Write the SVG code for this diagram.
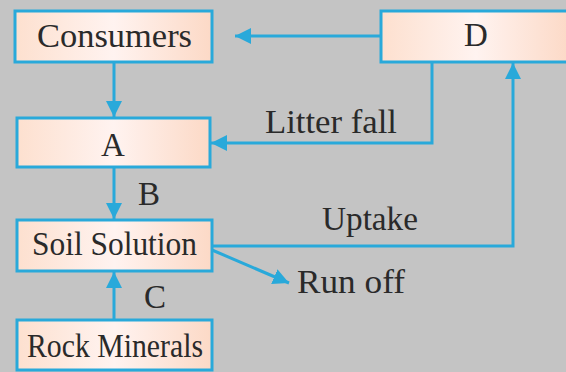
<svg xmlns="http://www.w3.org/2000/svg" width="566" height="372" viewBox="0 0 566 372">
<defs>
<linearGradient id="g" x1="0" y1="0" x2="1" y2="0">
<stop offset="0" stop-color="#fde0cf"/>
<stop offset="0.5" stop-color="#fff3f0"/>
<stop offset="1" stop-color="#fcd9c6"/>
</linearGradient>
<marker id="a" viewBox="0 0 10 10" refX="10" refY="5" markerWidth="16" markerHeight="16" markerUnits="userSpaceOnUse" orient="auto">
<path d="M0,0 L10,5 L0,10 z" fill="#29a9da"/>
</marker>
</defs>
<style>
.box{fill:url(#g);stroke:#29a9da;stroke-width:3}
.t{font-family:'Liberation Serif','Times New Roman','DejaVu Serif',serif;font-size:33px;fill:#2a2a2a}
.ln{fill:none;stroke:#29a9da;stroke-width:3}
</style>
<rect width="566" height="372" fill="#c4c4c4"/>
<g id="consumers"><rect class="box" x="15" y="11" width="197" height="51"/><text class="t" x="37" y="47" textLength="155" lengthAdjust="spacingAndGlyphs">Consumers</text></g>
<g id="d"><rect class="box" x="381" y="11" width="190" height="51"/><text class="t" x="464" y="46">D</text></g>
<g id="a-node"><rect class="box" x="17" y="118" width="193" height="49"/><text class="t" x="101" y="156">A</text></g>
<g id="soil"><rect class="box" x="17" y="220" width="195" height="51"/><text class="t" x="32" y="255" textLength="165" lengthAdjust="spacingAndGlyphs">Soil Solution</text></g>
<g id="rock"><rect class="box" x="17" y="320" width="195" height="50"/><text class="t" x="27" y="357" textLength="176" lengthAdjust="spacingAndGlyphs">Rock Minerals</text></g>
<g id="connectors">
<line class="ln" x1="114" y1="62" x2="114" y2="117" marker-end="url(#a)"/>
<line class="ln" x1="381" y1="36" x2="235" y2="36" marker-end="url(#a)"/>
<polyline class="ln" points="432,62 432,143 211,143" marker-end="url(#a)"/>
<line class="ln" x1="114" y1="167" x2="114" y2="219" marker-end="url(#a)"/>
<line class="ln" x1="114" y1="320" x2="114" y2="272" marker-end="url(#a)"/>
<polyline class="ln" points="212,246 513,246 513,63" marker-end="url(#a)"/>
<line class="ln" x1="212" y1="250" x2="289" y2="283" marker-end="url(#a)"/>
</g>
<g id="labels">
<text class="t" x="265" y="133" textLength="132" lengthAdjust="spacingAndGlyphs">Litter fall</text>
<text class="t" x="138" y="205">B</text>
<text class="t" x="144" y="308">C</text>
<text class="t" x="322" y="230" textLength="96" lengthAdjust="spacingAndGlyphs">Uptake</text>
<text class="t" x="297" y="293" textLength="108" lengthAdjust="spacingAndGlyphs">Run off</text>
</g>
</svg>
